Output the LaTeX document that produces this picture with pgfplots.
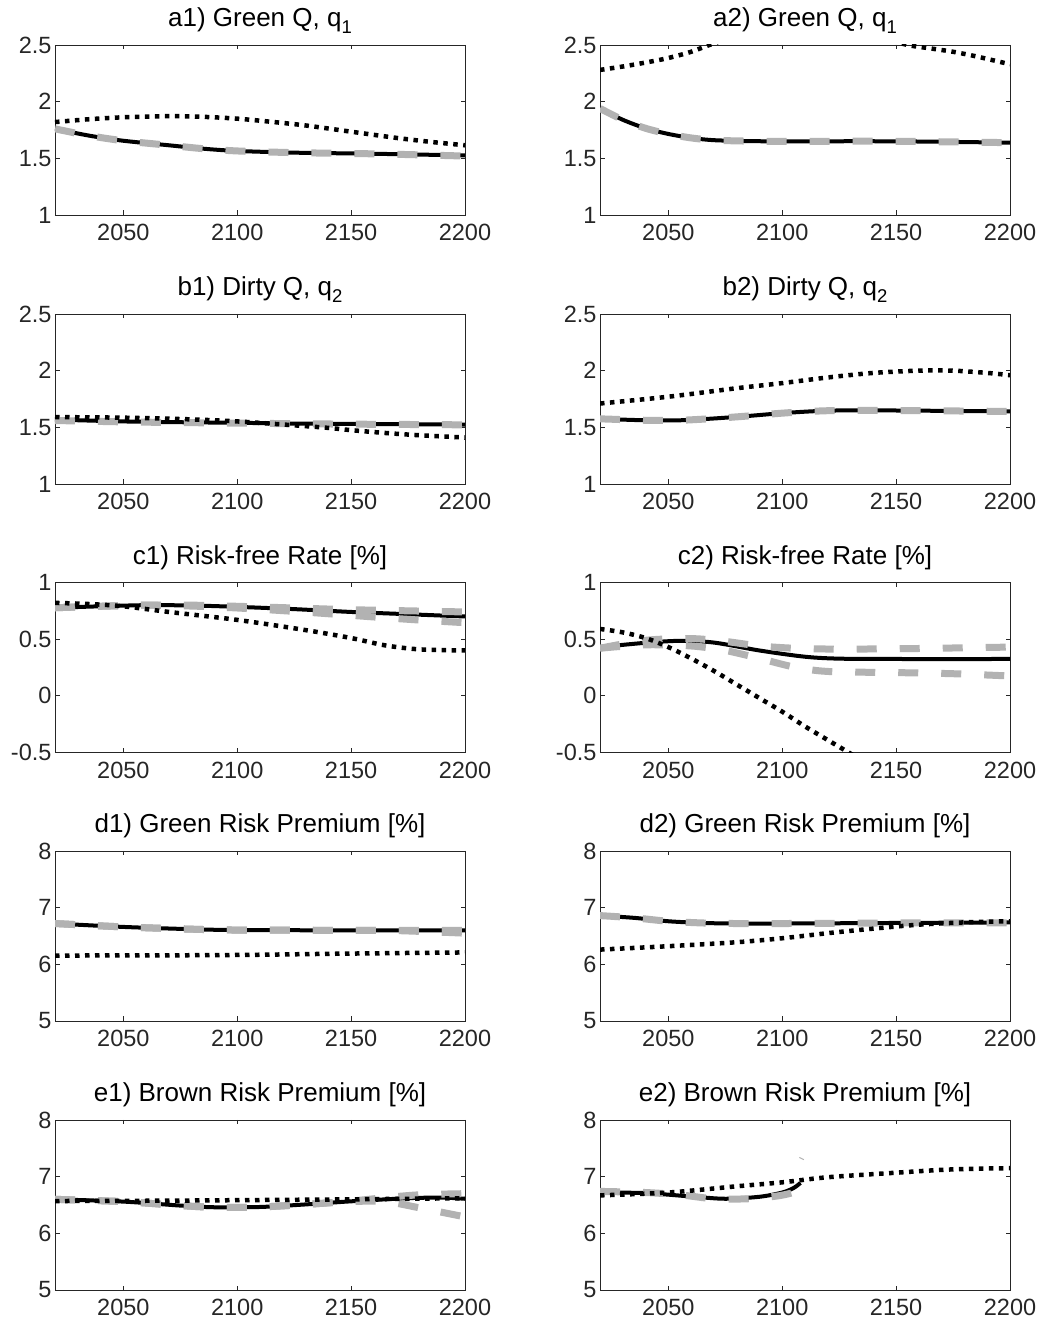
\documentclass[border=0pt]{standalone}
\usepackage{fontspec}
\setmainfont{Liberation Sans}
\usepackage{pgfplots}
\pgfplotsset{compat=1.18}
\definecolor{axc}{RGB}{38,38,38}
\definecolor{mgray}{RGB}{178,178,178}
\newcommand{\sub}[1]{\raisebox{-0.5ex}{\fontsize{18.5}{21}\selectfont #1}}
\pgfplotsset{
  base/.style={
    scale only axis, width=410pt, height=170pt, anchor=south west,
    xmin=2020, xmax=2200,
    xtick={2050,2100,2150,2200}, xticklabels={2050,2100,2150,2200},
    tick align=inside, major tick length=4.5pt,
    axis line style={draw=axc, line width=0.8pt},
    every tick/.style={draw=axc, line width=0.8pt},
    ticklabel style={font=\fontsize{23.5}{27}\selectfont, text=axc},
    xticklabel style={yshift=-6pt},
    title style={font=\fontsize{26}{30}\selectfont, at={(0.5,1)}, anchor=base, yshift=12pt, inner sep=0pt},
    clip=true,
  },
  qax/.style={base, ymin=1, ymax=2.5, ytick={1,1.5,2,2.5}, yticklabels={1,1.5,2,2.5}},
  rax/.style={base, ymin=-0.5, ymax=1, ytick={-0.5,0,0.5,1}, yticklabels={-0.5,0,0.5,1}},
  pax/.style={base, ymin=5, ymax=8, ytick={5,6,7,8}, yticklabels={5,6,7,8}},
  sol/.style={black, line width=4pt, smooth, no markers},
  gd/.style={mgray, line width=7pt, dash pattern=on 20pt off 23pt, smooth, no markers},
  dt/.style={black, line width=4.5pt, dash pattern=on 4.5pt off 5.5pt, smooth, no markers},
}
\begin{document}
\begin{tikzpicture}
\useasboundingbox (0pt,0pt) rectangle (1041pt,1325pt);
% ---------- a1 ----------
\begin{axis}[qax, at={(55pt,1110pt)}, title={a1) Green Q, q\sub{1}}]
\addplot[sol] coordinates {(2020,1.76)(2035,1.70)(2050,1.655)(2070,1.615)(2085,1.585)(2100,1.565)(2125,1.55)(2150,1.543)(2175,1.535)(2200,1.525)};
\addplot[gd] coordinates {(2020,1.76)(2035,1.70)(2050,1.655)(2070,1.615)(2085,1.585)(2100,1.565)(2125,1.55)(2150,1.543)(2175,1.533)(2200,1.52)};
\addplot[dt] coordinates {(2020,1.82)(2035,1.845)(2050,1.862)(2070,1.872)(2085,1.866)(2100,1.85)(2115,1.822)(2130,1.79)(2150,1.735)(2170,1.68)(2185,1.645)(2200,1.615)};
\end{axis}
% ---------- a2 ----------
\begin{axis}[qax, at={(600pt,1110pt)}, title={a2) Green Q, q\sub{1}}]
\addplot[sol] coordinates {(2020,1.94)(2030,1.84)(2040,1.765)(2050,1.715)(2060,1.68)(2070,1.66)(2085,1.652)(2100,1.65)(2150,1.65)(2200,1.638)};
\addplot[gd] coordinates {(2020,1.94)(2030,1.84)(2040,1.765)(2050,1.715)(2060,1.68)(2070,1.66)(2085,1.652)(2100,1.65)(2150,1.65)(2200,1.638)};
\addplot[dt] coordinates {(2020,2.28)(2030,2.31)(2040,2.345)(2050,2.385)(2060,2.44)(2068,2.50)(2080,2.58)(2095,2.65)(2112,2.68)(2130,2.64)(2145,2.56)(2155,2.50)(2165,2.47)(2175,2.44)(2185,2.40)(2200,2.33)};
\end{axis}
% ---------- b1 ----------
\begin{axis}[qax, at={(55pt,841pt)}, title={b1) Dirty Q, q\sub{2}}]
\addplot[sol] coordinates {(2020,1.568)(2050,1.552)(2075,1.545)(2100,1.54)(2125,1.533)(2150,1.53)(2175,1.527)(2200,1.524)};
\addplot[gd] coordinates {(2020,1.56)(2050,1.548)(2075,1.542)(2100,1.537)(2125,1.532)(2150,1.528)(2175,1.525)(2200,1.522)};
\addplot[dt] coordinates {(2020,1.59)(2050,1.585)(2080,1.57)(2100,1.552)(2120,1.525)(2140,1.495)(2150,1.475)(2165,1.45)(2180,1.43)(2200,1.41)};
\end{axis}
% ---------- b2 ----------
\begin{axis}[qax, at={(600pt,841pt)}, title={b2) Dirty Q, q\sub{2}}]
\addplot[sol] coordinates {(2020,1.575)(2040,1.562)(2055,1.562)(2070,1.578)(2085,1.60)(2100,1.625)(2115,1.643)(2130,1.65)(2160,1.647)(2200,1.64)};
\addplot[gd] coordinates {(2020,1.575)(2040,1.562)(2055,1.562)(2070,1.578)(2085,1.60)(2100,1.625)(2115,1.643)(2130,1.65)(2160,1.647)(2200,1.64)};
\addplot[dt] coordinates {(2020,1.71)(2050,1.77)(2080,1.845)(2100,1.89)(2120,1.94)(2140,1.98)(2160,2.0)(2175,2.0)(2190,1.98)(2200,1.96)};
\end{axis}
% ---------- c1 ----------
\begin{axis}[rax, at={(55pt,572.5pt)}, title={c1) Risk-free Rate [\%]}]
\addplot[sol] coordinates {(2020,0.777)(2040,0.79)(2060,0.80)(2080,0.797)(2100,0.785)(2125,0.765)(2150,0.74)(2175,0.72)(2200,0.70)};
\addplot[gd] coordinates {(2020,0.777)(2040,0.79)(2060,0.80)(2080,0.80)(2100,0.79)(2125,0.775)(2150,0.76)(2175,0.75)(2200,0.74)};
\addplot[gd] coordinates {(2020,0.777)(2040,0.79)(2060,0.80)(2080,0.792)(2100,0.775)(2125,0.745)(2150,0.71)(2175,0.675)(2200,0.645)};
\addplot[dt] coordinates {(2020,0.82)(2035,0.81)(2050,0.79)(2070,0.74)(2100,0.67)(2130,0.58)(2150,0.51)(2165,0.445)(2180,0.41)(2200,0.40)};
\end{axis}
% ---------- c2 ----------
\begin{axis}[rax, at={(600pt,572.5pt)}, title={c2) Risk-free Rate [\%]}]
\addplot[sol] coordinates {(2020,0.43)(2040,0.468)(2055,0.485)(2070,0.47)(2090,0.40)(2110,0.345)(2125,0.328)(2150,0.325)(2200,0.325)};
\addplot[gd] coordinates {(2020,0.42)(2040,0.49)(2060,0.505)(2075,0.48)(2090,0.44)(2105,0.42)(2120,0.413)(2150,0.415)(2200,0.43)};
\addplot[gd] coordinates {(2020,0.42)(2040,0.45)(2060,0.44)(2075,0.40)(2090,0.33)(2105,0.255)(2120,0.215)(2150,0.205)(2175,0.195)(2200,0.175)};
\addplot[dt] coordinates {(2020,0.59)(2030,0.56)(2040,0.51)(2050,0.43)(2060,0.33)(2070,0.22)(2080,0.10)(2090,-0.02)(2100,-0.14)(2110,-0.27)(2120,-0.39)(2130,-0.51)(2140,-0.63)};
\end{axis}
% ---------- d1 ----------
\begin{axis}[pax, at={(55pt,304pt)}, title={d1) Green Risk Premium [\%]}]
\addplot[sol] coordinates {(2020,6.72)(2050,6.66)(2080,6.62)(2100,6.605)(2150,6.60)(2200,6.60)};
\addplot[gd] coordinates {(2020,6.72)(2050,6.66)(2080,6.62)(2100,6.605)(2150,6.60)(2200,6.60)};
\addplot[gd] coordinates {(2020,6.72)(2050,6.66)(2080,6.62)(2100,6.605)(2150,6.60)(2170,6.595)(2200,6.55)};
\addplot[dt] coordinates {(2020,6.155)(2060,6.158)(2100,6.165)(2150,6.19)(2200,6.21)};
\end{axis}
% ---------- d2 ----------
\begin{axis}[pax, at={(600pt,304pt)}, title={d2) Green Risk Premium [\%]}]
\addplot[sol] coordinates {(2020,6.86)(2035,6.82)(2050,6.76)(2065,6.73)(2080,6.72)(2100,6.72)(2150,6.73)(2200,6.74)};
\addplot[gd] coordinates {(2020,6.86)(2035,6.82)(2050,6.76)(2065,6.73)(2080,6.72)(2100,6.72)(2150,6.73)(2200,6.73)};
\addplot[dt] coordinates {(2020,6.26)(2050,6.32)(2080,6.39)(2100,6.46)(2120,6.55)(2140,6.63)(2160,6.70)(2180,6.74)(2200,6.76)};
\end{axis}
% ---------- e1 ----------
\begin{axis}[pax, at={(55pt,35pt)}, title={e1) Brown Risk Premium [\%]}]
\addplot[sol] coordinates {(2020,6.60)(2050,6.56)(2075,6.49)(2090,6.46)(2110,6.465)(2130,6.51)(2150,6.565)(2175,6.62)(2190,6.63)(2200,6.61)};
\addplot[gd] coordinates {(2020,6.60)(2050,6.56)(2075,6.49)(2090,6.46)(2110,6.465)(2130,6.51)(2150,6.57)(2165,6.63)(2180,6.68)(2200,6.70)};
\addplot[gd] coordinates {(2020,6.60)(2050,6.56)(2075,6.49)(2090,6.46)(2110,6.465)(2130,6.51)(2150,6.56)(2165,6.56)(2180,6.45)(2200,6.29)};
\addplot[dt] coordinates {(2020,6.57)(2060,6.575)(2100,6.585)(2150,6.60)(2200,6.62)};
\end{axis}
% ---------- e2 ----------
\begin{axis}[pax, at={(600pt,35pt)}, title={e2) Brown Risk Premium [\%]}]
\addplot[sol] coordinates {(2020,6.72)(2040,6.71)(2060,6.65)(2075,6.61)(2090,6.645)(2100,6.72)(2105,6.80)(2108,6.89)};
\addplot[gd] coordinates {(2020,6.74)(2040,6.72)(2055,6.68)(2070,6.61)(2085,6.61)(2098,6.66)(2105,6.72)};
\addplot[mgray, line width=1pt] coordinates {(2107.5,7.34)(2109.5,7.30)};
\addplot[dt] coordinates {(2020,6.67)(2050,6.72)(2080,6.83)(2100,6.90)(2120,6.99)(2150,7.07)(2170,7.12)(2185,7.14)(2200,7.15)};
\end{axis}
\end{tikzpicture}
\end{document}
